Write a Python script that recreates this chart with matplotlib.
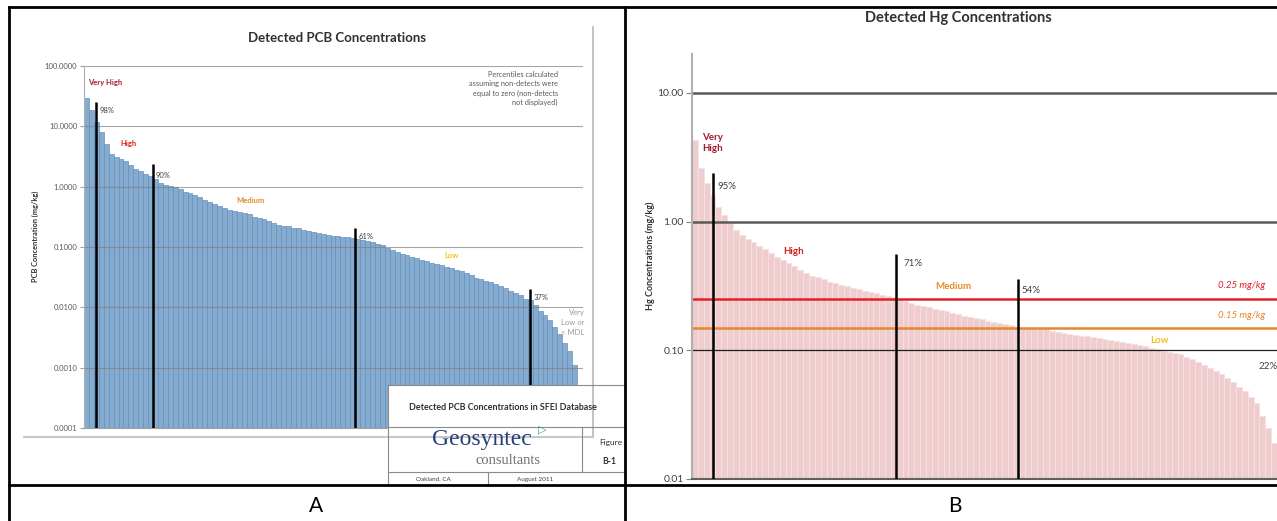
import numpy as np
import matplotlib.pyplot as plt
from matplotlib.patches import Rectangle

plt.rcParams['font.family'] = ['Lato', 'DejaVu Sans']

W, H = 1277, 521

# --- Panel A: detected PCB concentrations (mg/kg), sorted high -> low ---
pcb_values = [30, 19, 12, 8.0, 5.0, 3.5, 3.1, 2.9, 2.65, 2.3,
              2.0, 1.8, 1.6, 1.5, 1.35, 1.15, 1.08, 1.02, 0.97, 0.90,
              0.83, 0.78, 0.72, 0.67, 0.61, 0.56, 0.52, 0.48, 0.44, 0.41,
              0.39, 0.38, 0.36, 0.35, 0.32, 0.30, 0.29, 0.27, 0.25, 0.235,
              0.225, 0.22, 0.21, 0.205, 0.195, 0.185, 0.18, 0.17, 0.165, 0.16,
              0.155, 0.152, 0.148, 0.145, 0.142, 0.138, 0.13, 0.125, 0.12, 0.113,
              0.106, 0.097, 0.09, 0.083, 0.078, 0.073, 0.069, 0.065, 0.062, 0.058,
              0.055, 0.052, 0.05, 0.047, 0.045, 0.042, 0.04, 0.037, 0.034, 0.031,
              0.029, 0.027, 0.026, 0.024, 0.023, 0.021, 0.019, 0.017, 0.016, 0.014,
              0.013, 0.011, 0.0088, 0.0075, 0.0062, 0.0048, 0.0036, 0.0026, 0.0019, 0.0011]
pcb_ticks = [0.0001, 0.001, 0.01, 0.1, 1, 10, 100]
pcb_pct_labels = ['98%', '90%', '61%', '37%']
pcb_pct_pos = [1.9, 13.5, 54.5, 90.0]
pcb_pct_top = [25, 2.4, 0.21, 0.02]
pcb_classes = ['Very High', 'High', 'Medium', 'Low']
pcb_class_colors = ['#a8182c', '#d81e1e', '#e8892a', '#f2c21b']

# --- Panel B: detected Hg concentrations (mg/kg), sorted high -> low ---
hg_values = [4.3, 2.6, 2.0, 1.6, 1.3, 1.12, 0.98, 0.86, 0.78, 0.73,
             0.69, 0.65, 0.61, 0.57, 0.53, 0.50, 0.48, 0.45, 0.42, 0.40,
             0.38, 0.37, 0.355, 0.34, 0.33, 0.32, 0.315, 0.305, 0.30, 0.29,
             0.285, 0.28, 0.27, 0.265, 0.26, 0.25, 0.24, 0.233, 0.226, 0.22,
             0.215, 0.21, 0.205, 0.20, 0.195, 0.19, 0.185, 0.18, 0.178, 0.175,
             0.17, 0.166, 0.163, 0.16, 0.156, 0.152, 0.15, 0.148, 0.147, 0.146,
             0.145, 0.142, 0.139, 0.136, 0.134, 0.132, 0.13, 0.128, 0.126, 0.124,
             0.122, 0.12, 0.118, 0.116, 0.113, 0.111, 0.109, 0.107, 0.104, 0.102,
             0.099, 0.097, 0.095, 0.093, 0.089, 0.085, 0.081, 0.077, 0.073, 0.069,
             0.065, 0.061, 0.057, 0.052, 0.048, 0.043, 0.039, 0.031, 0.025, 0.019]
hg_ticks = [0.01, 0.1, 1, 10]
hg_pct_labels = ['95%', '71%', '54%']
hg_pct_pos = [3.1, 34.4, 55.2]
hg_pct_top = [2.4, 0.56, 0.36]
hg_thresholds = [0.25, 0.15]
hg_threshold_labels = ['0.25 mg/kg', '0.15 mg/kg']
hg_threshold_colors = ['#e3202a', '#e8862e']


def px_box(l, t, r, b):
    return [l / W, 1 - b / H, (r - l) / W, (b - t) / H]


fig = plt.figure(figsize=(W / 100, H / 100), dpi=100)

# ---------------- Panel A ----------------
ax1 = fig.add_axes(px_box(84, 66, 583, 428))
x1 = np.arange(len(pcb_values))
ax1.bar(x1, pcb_values, width=1.0, color='#85abcf', edgecolor='#6690bf',
        linewidth=0.5, zorder=1)
ax1.set_yscale('log')
ax1.set_ylim(1e-4, 100)
ax1.set_xlim(-0.5, 100.7)
ax1.set_xticks([])
ax1.set_yticks(pcb_ticks)
ax1.set_yticklabels(['%.4f' % t for t in pcb_ticks])
ax1.minorticks_off()
ax1.tick_params(axis='y', length=3, color='#a0a0a0', labelsize=5.5,
                labelcolor='#595959', pad=2)
for t in pcb_ticks:
    ax1.axhline(t, color='#808080', lw=0.8, alpha=0.7, zorder=2)
for s in ['top', 'right']:
    ax1.spines[s].set_visible(False)
ax1.spines['left'].set_color('#b0b0b0')
ax1.spines['bottom'].set_color('#a0a0a0')
ax1.vlines(pcb_pct_pos, 1e-4, pcb_pct_top, color='black', lw=1.8, zorder=3)
pcb_pct_text = [(2.7, 18), (14.1, 1.56), (55.1, 0.15), (90.6, 0.0147)]
for lab, (tx, ty) in zip(pcb_pct_labels, pcb_pct_text):
    ax1.text(tx, ty, lab, fontsize=5.5, color='#404040', va='center', ha='left')
pcb_class_text = [(0.3, 54), (6.8, 5.1), (30.4, 0.6), (72.5, 0.073)]
for lab, col, (tx, ty) in zip(pcb_classes, pcb_class_colors, pcb_class_text):
    ax1.text(tx, ty, lab, fontsize=5.5, color=col, fontweight='bold',
             va='center', ha='left')
ax1.text(101.0, 0.0055, 'Very\nLow or\n< MDL', fontsize=5.5, color='#9a9a9a',
         ha='right', va='center', linespacing=1.5)
ax1.text(95.6, 42, 'Percentiles calculated\nassuming non-detects were\n'
         'equal to zero (non-detects\nnot displayed)', fontsize=5.3,
         color='#595959', ha='right', va='center', linespacing=1.35)

# ---------------- Panel B ----------------
ax2 = fig.add_axes(px_box(692, 54, 1277, 479))
x2 = np.arange(len(hg_values))
ax2.bar(x2, hg_values, width=1.0, color='#efcccd', edgecolor='#f6e2e2',
        linewidth=0.6, zorder=1)
ax2.set_yscale('log')
ax2.set_ylim(0.01, 20)
ax2.set_xlim(-0.5, 99.5)
ax2.set_xticks([])
ax2.set_yticks(hg_ticks)
ax2.set_yticklabels(['%.2f' % t for t in hg_ticks])
ax2.minorticks_off()
ax2.tick_params(axis='y', length=4, color='#808080', labelsize=7.5,
                labelcolor='#404040', pad=2)
ax2.axhline(10, color='#5a5a5a', lw=1.8, zorder=2)
ax2.axhline(1, color='#5a5a5a', lw=1.8, zorder=2)
ax2.axhline(0.1, color='#202020', lw=0.9, zorder=2)
for val, col in zip(hg_thresholds, hg_threshold_colors):
    ax2.axhline(val, color=col, lw=1.8, zorder=2)
for s in ['top', 'right']:
    ax2.spines[s].set_visible(False)
ax2.spines['left'].set_color('#b0b0b0')
ax2.spines['left'].set_linewidth(1.5)
ax2.spines['bottom'].set_color('#606060')
ax2.spines['bottom'].set_linewidth(1.5)
ax2.vlines(hg_pct_pos, 0.01, hg_pct_top, color='black', lw=1.8, zorder=3)
hg_pct_text = [(3.9, 1.86), (35.7, 0.47), (55.9, 0.29)]
for lab, (tx, ty) in zip(hg_pct_labels, hg_pct_text):
    ax2.text(tx, ty, lab, fontsize=7, color='#404040', va='center', ha='left')
ax2.text(99.6, 0.075, '22%', fontsize=7, color='#404040', va='center', ha='right')
hg_class_text = [(1.2, 4.1, 'left'), (16.9, 0.58, 'center'),
                 (41.0, 0.31, 'left'), (79.5, 0.12, 'center')]
hg_classes = ['Very\nHigh', 'High', 'Medium', 'Low']
for lab, col, (tx, ty, ha) in zip(hg_classes, pcb_class_colors, hg_class_text):
    ax2.text(tx, ty, lab, fontsize=7, color=col, fontweight='bold',
             va='center', ha=ha, linespacing=1.3)
for lab, col, ty in zip(hg_threshold_labels, hg_threshold_colors, [0.32, 0.186]):
    ax2.text(97.5, ty, lab, fontsize=7, color=col, style='italic',
             va='center', ha='right')

# ---------------- frame, titles, title block ----------------
ov = fig.add_axes([0, 0, 1, 1])
ov.set_xlim(0, W)
ov.set_ylim(H, 0)
ov.axis('off')
ov.set_zorder(5)

ov.text(337, 38, 'Detected PCB Concentrations', fontsize=9.5, fontweight='bold',
        color='#303030', ha='center', va='center')
ov.text(958, 18, 'Detected Hg Concentrations', fontsize=10.5, fontweight='bold',
        color='#303030', ha='center', va='center')
ov.text(35, 236, 'PCB Concentration (mg/kg)', fontsize=5.3, fontweight='bold',
        color='#303030', rotation=90, ha='center', va='center')
ov.text(650, 256, 'Hg Concentrations (mg/kg)', fontsize=6.5, fontweight='bold',
        color='#303030', rotation=90, ha='center', va='center')

# chart frame of panel A
ov.plot([593, 593], [27, 437], color='#b8b8b8', lw=1.2)
ov.plot([24, 593], [437, 437], color='#c8c8c8', lw=1.5)

# title block
ov.add_patch(Rectangle((388, 385), 240, 100, facecolor='white',
                       edgecolor='none'))
tb = '#8a8a8a'
ov.plot([388, 625], [385, 385], color=tb, lw=0.8)
ov.plot([388, 388], [385, 485], color=tb, lw=0.8)
ov.plot([388, 625], [427, 427], color=tb, lw=0.8)
ov.plot([388, 625], [472, 472], color=tb, lw=0.8)
ov.plot([582, 582], [427, 472], color=tb, lw=0.8)
ov.plot([488, 488], [472, 485], color=tb, lw=0.8)
ov.text(503, 407, 'Detected PCB Concentrations in SFEI Database', fontsize=6.4,
        fontweight='bold', color='#303030', ha='center', va='center')
ov.text(482, 439, 'Geosyntec', fontsize=17, family='Liberation Serif',
        color='#23417a', ha='center', va='center')
ov.text(538, 430, '\u25B7', fontsize=8, color='#3aa58a', ha='left',
        va='center', family='DejaVu Sans')
ov.text(508, 460, 'consultants', fontsize=10.5, family='Liberation Serif',
        color='#707070', ha='center', va='center')
ov.text(599, 443, 'Figure', fontsize=6, color='#303030', ha='left', va='center')
ov.text(602, 462, 'B-1', fontsize=6.2, fontweight='bold', color='#303030',
        ha='left', va='center')
ov.text(433, 479, 'Oakland, CA', fontsize=4.6, color='#404040', ha='center',
        va='center')
ov.text(535, 479, 'August 2011', fontsize=4.6, color='#404040', ha='center',
        va='center')

# table borders
ov.plot([9, W], [7, 7], color='black', lw=2)
ov.plot([9, 9], [7, H], color='black', lw=2)
ov.plot([625, 625], [7, H], color='black', lw=2)
ov.plot([9, W], [485, 485], color='black', lw=2)
ov.text(316, 506, 'A', fontsize=15, color='black', ha='center', va='center')
ov.text(955, 506, 'B', fontsize=15, color='black', ha='center', va='center')

fig.savefig('out.png', dpi=100)
